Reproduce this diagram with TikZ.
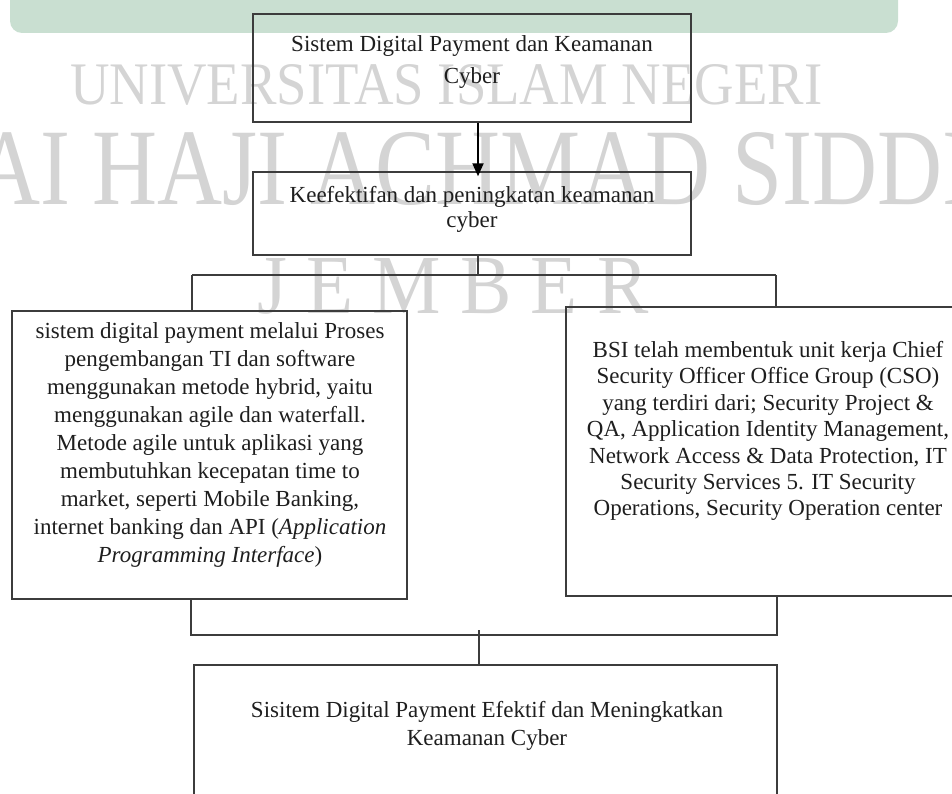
\documentclass[tikz,border=0pt]{standalone}
\usepackage{fontspec}
\setmainfont{Liberation Serif}
\usepackage{graphicx}
\usetikzlibrary{arrows.meta,calc}
\definecolor{dpline}{RGB}{60,60,60}
\definecolor{dptext}{RGB}{30,30,30}
\definecolor{dpwmark}{RGB}{212,212,212}
\definecolor{dpgreen}{RGB}{201,223,209}
\tikzset{
  box/.style={draw=dpline, line width=1.4pt, inner sep=0pt},
  txt/.style={text=dptext, align=center, inner sep=0pt, font=\fontsize{23}{28}\selectfont},
  link/.style={draw=dpline, line width=1.4pt},
  ar/.style={draw=black, line width=2pt, -{Triangle[length=13pt,width=11pt]}},
  wm/.style={text=dpwmark, inner sep=0pt, anchor=base west},
}
\begin{document}
\begin{tikzpicture}[x=1pt,y=-1pt]
  \useasboundingbox (0,0) rectangle (952,794);
  \clip (0,0) rectangle (952,794);

  % ===== watermark behind the chart =====
  \fill[dpgreen, rounded corners=12pt] (10,-20) rectangle (898,33);
  \node[wm] (wmuni) at (70,105) {\resizebox{752pt}{40pt}{UNIVERSITAS ISLAM NEGERI}};
  \node[wm] (wmkiai) at (-120,205) {\resizebox{1157pt}{72pt}{KIAI HAJI ACHMAD SIDDIQ}};
  \node[wm] (wmjember) at (257,313) {\resizebox{391pt}{55pt}{J E M B E R}};

  % ===== boxes =====
  \node[box, minimum width=438pt, minimum height=108pt] (goal) at (472,68) {};
  \node[box, minimum width=438pt, minimum height=83pt] (aim) at (472,213.5) {};
  \node[box, minimum width=395pt, minimum height=288pt] (agile) at (209.5,455) {};
  \node[box, minimum width=404pt, minimum height=289pt] (cso) at (768,451.5) {};
  \node[box, minimum width=583pt, minimum height=165pt] (result) at (485.5,747.5) {};

  % ===== texts =====
  \node[txt, font=\fontsize{23}{32}\selectfont] (goaltxt) at (472,62)
    {Sistem Digital Payment dan Keamanan\\Cyber};
  \node[txt, font=\fontsize{23}{25}\selectfont] (aimtxt) at (472,209.5)
    {Keefektifan dan peningkatan keamanan\\cyber};
  \node[txt] (agiletxt) at (210,445) {%
    sistem digital payment melalui Proses\\
    pengembangan TI dan software\\
    menggunakan metode hybrid, yaitu\\
    menggunakan agile dan waterfall.\\
    Metode agile untuk aplikasi yang\\
    membutuhkan kecepatan time to\\
    market, seperti Mobile Banking,\\
    internet banking dan API (\textit{Application}\\
    \textit{Programming Interface})};
  \node[txt, font=\fontsize{23}{26.4}\selectfont] (csotxt) at (768,431) {%
    BSI telah membentuk unit kerja Chief\\
    Security Officer Office Group (CSO)\\
    yang terdiri dari; Security Project \&\\
    QA, Application Identity Management,\\
    Network Access \& Data Protection, IT\\
    Security Services 5. IT Security\\
    Operations, Security Operation center};
  \node[txt] (resulttxt) at (487,726)
    {Sisitem Digital Payment Efektif dan Meningkatkan\\Keamanan Cyber};

  % ===== edges =====
  \draw[ar] ([xshift=6pt]goal.south) -- ([xshift=6pt,yshift=-5pt]aim.north);

  % split towards the two branches
  \coordinate (splitL) at (192,275);
  \coordinate (splitR) at (776,275);
  \draw[link] ([xshift=6pt]aim.south) -- ([xshift=6pt]aim.south |- splitL);
  \draw[link] (splitL) -- (splitR);
  \draw[link] (splitL) -- (splitL |- agile.north);
  \draw[link] (splitR) -- (splitR |- cso.north);

  % join into the result
  \coordinate (joinL) at (191,635);
  \coordinate (joinR) at (777,635);
  \coordinate (joinM) at (479,630);
  \draw[link] (joinL |- agile.south) -- (joinL) -- (joinR) -- (joinR |- cso.south);
  \draw[link] (joinM) -- (joinM |- result.north);

\end{tikzpicture}
\end{document}
